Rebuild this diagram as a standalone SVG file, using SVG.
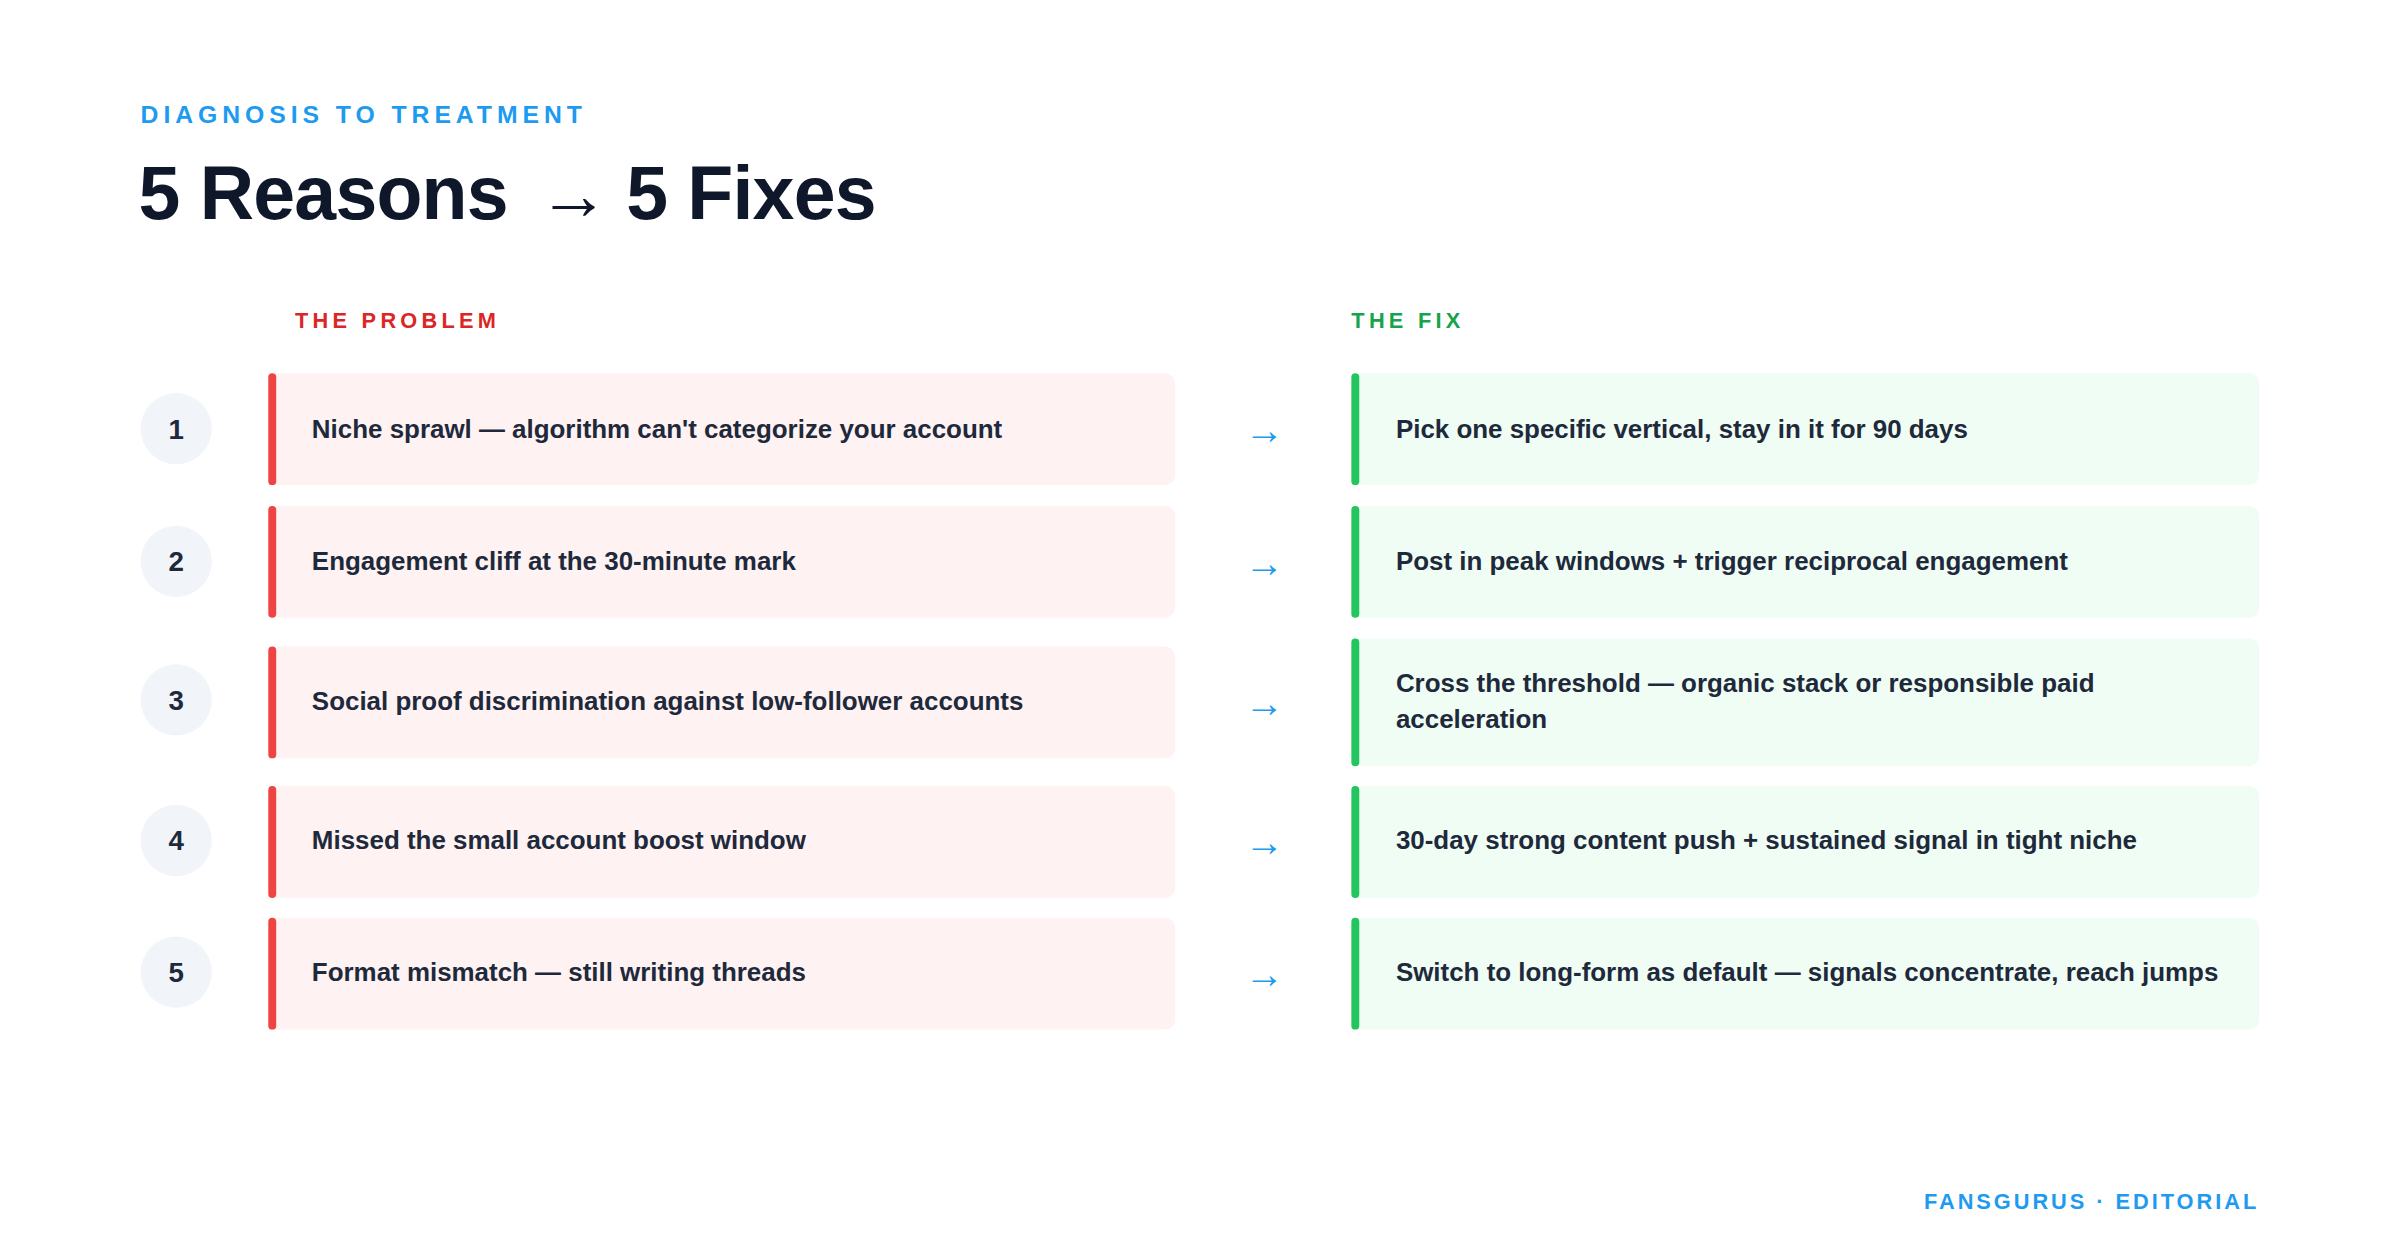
<svg xmlns="http://www.w3.org/2000/svg" width="2400" height="1260" viewBox="0 0 2400 1260">
<defs>
<style>
text{font-family:"Liberation Sans",Arial,sans-serif;}
.kick{font-size:25px;font-weight:700;letter-spacing:5px;fill:#1d9bf0;}
.title{font-size:76px;font-weight:700;fill:#0f172a;letter-spacing:-0.8px;}
.col{font-size:22px;font-weight:700;letter-spacing:4.3px;}
.pbox{fill:#fef2f2;}
.fbox{fill:#f0fdf4;}
.pbar{fill:#ef4444;}
.fbar{fill:#22c55e;}
.circ{fill:#f1f5f9;}
.num{font-size:28px;font-weight:700;fill:#1e293b;text-anchor:middle;}
.t{font-size:26.2px;font-weight:700;fill:#1e293b;}
.arr{font-size:40px;fill:#1d9bf0;text-anchor:middle;}
.foot{font-size:22px;font-weight:700;letter-spacing:3px;fill:#1d9bf0;text-anchor:end;}
</style>
</defs>
<rect width="2400" height="1260" fill="#ffffff"/>
<g transform="scale(0.99)">
<text class="kick" x="142" y="124">DIAGNOSIS TO TREATMENT</text>
<text class="title" x="140" y="221">5 Reasons <tspan font-size="72" font-weight="400" dx="10">→</tspan><tspan dx="18">5 Fixes</tspan></text>
<text class="col" x="298" y="331" fill="#dc2626">THE PROBLEM</text>
<text class="col" x="1365" y="331" fill="#16a34a">THE FIX</text>

<g id="row1">
<circle class="circ" cx="178" cy="433" r="36"/><text class="num" x="178" y="443">1</text>
<rect class="pbox" x="271" y="377" width="916" height="113" rx="10"/><rect class="pbar" x="271" y="377" width="8" height="113" rx="4"/>
<text class="t" x="315" y="442">Niche sprawl — algorithm can't categorize your account</text>
<rect class="fbox" x="1365" y="377" width="917" height="113" rx="10"/><rect class="fbar" x="1365" y="377" width="8" height="113" rx="4"/>
<text class="t" x="1410" y="442">Pick one specific vertical, stay in it for 90 days</text>
</g>
<g id="row2">
<circle class="circ" cx="178" cy="567" r="36"/><text class="num" x="178" y="577">2</text>
<rect class="pbox" x="271" y="511" width="916" height="113" rx="10"/><rect class="pbar" x="271" y="511" width="8" height="113" rx="4"/>
<text class="t" x="315" y="576">Engagement cliff at the 30-minute mark</text>
<rect class="fbox" x="1365" y="511" width="917" height="113" rx="10"/><rect class="fbar" x="1365" y="511" width="8" height="113" rx="4"/>
<text class="t" x="1410" y="576">Post in peak windows + trigger reciprocal engagement</text>
</g>
<g id="row3">
<circle class="circ" cx="178" cy="707" r="36"/><text class="num" x="178" y="717">3</text>
<rect class="pbox" x="271" y="653" width="916" height="113" rx="10"/><rect class="pbar" x="271" y="653" width="8" height="113" rx="4"/>
<text class="t" x="315" y="717">Social proof discrimination against low-follower accounts</text>
<rect class="fbox" x="1365" y="645" width="917" height="129" rx="10"/><rect class="fbar" x="1365" y="645" width="8" height="129" rx="4"/>
<text class="t" x="1410" y="699">Cross the threshold — organic stack or responsible paid</text>
<text class="t" x="1410" y="735">acceleration</text>
</g>
<g id="row4">
<circle class="circ" cx="178" cy="849" r="36"/><text class="num" x="178" y="859">4</text>
<rect class="pbox" x="271" y="794" width="916" height="113" rx="10"/><rect class="pbar" x="271" y="794" width="8" height="113" rx="4"/>
<text class="t" x="315" y="858">Missed the small account boost window</text>
<rect class="fbox" x="1365" y="794" width="917" height="113" rx="10"/><rect class="fbar" x="1365" y="794" width="8" height="113" rx="4"/>
<text class="t" x="1410" y="858">30-day strong content push + sustained signal in tight niche</text>
</g>
<g id="row5">
<circle class="circ" cx="178" cy="982" r="36"/><text class="num" x="178" y="992">5</text>
<rect class="pbox" x="271" y="927" width="916" height="113" rx="10"/><rect class="pbar" x="271" y="927" width="8" height="113" rx="4"/>
<text class="t" x="315" y="991">Format mismatch — still writing threads</text>
<rect class="fbox" x="1365" y="927" width="917" height="113" rx="10"/><rect class="fbar" x="1365" y="927" width="8" height="113" rx="4"/>
<text class="t" x="1410" y="991">Switch to long-form as default — signals concentrate, reach jumps</text>
</g>
<g id="connectors">
<text class="arr" x="1277" y="449">→</text>
<text class="arr" x="1277" y="583">→</text>
<text class="arr" x="1277" y="724">→</text>
<text class="arr" x="1277" y="865">→</text>
<text class="arr" x="1277" y="998">→</text>
</g>
<text class="foot" x="2282" y="1221">FANSGURUS · EDITORIAL</text>
</g>
</svg>
